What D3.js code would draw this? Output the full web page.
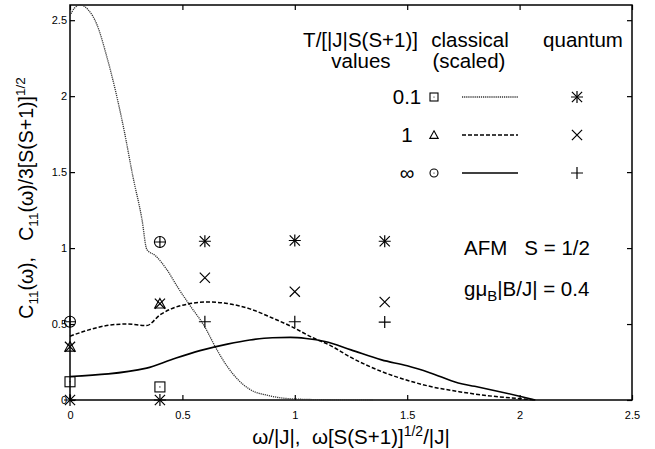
<!DOCTYPE html>
<html>
<head>
<meta charset="utf-8">
<script src="https://cdn.jsdelivr.net/npm/d3@7"></script>
<style>
  html, body { margin: 0; padding: 0; background: #fff; }
  svg { display: block; }
  text { font-family: "Liberation Sans", Arial, Helvetica, sans-serif; fill: #000; white-space: pre; }
</style>
</head>
<body>
<svg id="chart" width="655" height="449"></svg>
<script>
// Classical spectral curves C11(ω)/3[S(S+1)]^1/2 versus scaled frequency
const classicalT01 = [
  [0, 2.53], [0.02, 2.58], [0.045, 2.60], [0.08, 2.57], [0.12, 2.47], [0.16, 2.28],
  [0.2, 2.05], [0.24, 1.78], [0.28, 1.47], [0.32, 1.19], [0.342, 0.99], [0.38, 0.95],
  [0.43, 0.86], [0.48, 0.74], [0.53, 0.63], [0.6, 0.48], [0.65, 0.34], [0.7, 0.22],
  [0.75, 0.13], [0.8, 0.07], [0.88, 0.03], [0.95, 0.012], [1.05, 0.004], [1.2, 0.001], [1.35, 0]
];
const classicalT1 = [
  [0, 0.42], [0.08, 0.46], [0.163, 0.49], [0.25, 0.5], [0.341, 0.49], [0.4, 0.56],
  [0.45, 0.6], [0.52, 0.63], [0.61, 0.645], [0.7, 0.635], [0.8, 0.6], [0.9, 0.54],
  [0.99, 0.48], [1.08, 0.41], [1.157, 0.36], [1.25, 0.28], [1.39, 0.185], [1.5, 0.13],
  [1.6, 0.09], [1.73, 0.055], [1.85, 0.03], [1.99, 0.01], [2.07, 0]
];
const classicalTinf = [
  [0, 0.155], [0.341, 0.21], [0.45, 0.265], [0.578, 0.325], [0.7, 0.368], [0.8, 0.395],
  [0.9, 0.41], [0.98, 0.412], [1.05, 0.405], [1.134, 0.385], [1.25, 0.33], [1.386, 0.264],
  [1.5, 0.225], [1.6, 0.18], [1.727, 0.112], [1.8, 0.09], [1.876, 0.066], [2.0, 0.025], [2.07, 0]
];

// Exact classical values (open symbols)
const classicalX = [0, 0.4];
const squareT01 = [0.12, 0.086];
const triangleT1 = [0.35, 0.634];
const circleTinf = [0.515, 1.04];

// Quantum values (stroke symbols)
const quantumX = [0, 0.4, 0.6, 1.0, 1.4];
const starT01 = [0, 0, 1.045, 1.05, 1.045];
const crossT1 = [0.35, 0.634, 0.805, 0.713, 0.645];
const plusTinf = [0.515, 1.04, 0.515, 0.515, 0.513];

const xTicks = [0, 0.5, 1, 1.5, 2, 2.5];
const yTicks = [0, 0.5, 1, 1.5, 2, 2.5];
const tempLabels = ["0.1", "1", "\u221E"];

const svg = d3.select("#chart");
const plotL = 70, plotR = 632, plotT = 5, plotB = 400;
const x = d3.scaleLinear().domain([0, 2.5]).range([plotL, plotR]);
const y = d3.scaleLinear().domain([0, 2.6]).range([plotB, plotT]);

// Frame with inward ticks on all four sides
const tickLen = 5;
const tickFont = g => g.selectAll("text").attr("font-size", 11)
  .attr("font-family", "Liberation Sans, Arial, sans-serif");
svg.append("g").attr("transform", `translate(0,${plotB})`)
  .call(d3.axisBottom(x).tickValues(xTicks).tickSize(-tickLen).tickPadding(11)
        .tickFormat(d3.format("~g")))
  .call(g => { g.select(".domain").remove(); tickFont(g); });
svg.append("g").attr("transform", `translate(0,${plotT})`)
  .call(d3.axisTop(x).tickValues(xTicks).tickSize(-tickLen).tickFormat(""))
  .call(g => g.select(".domain").remove());
svg.append("g").attr("transform", `translate(${plotL},0)`)
  .call(d3.axisLeft(y).tickValues(yTicks).tickSize(-tickLen).tickPadding(3)
        .tickFormat(d3.format("~g")))
  .call(g => { g.select(".domain").remove(); tickFont(g); });
svg.append("g").attr("transform", `translate(${plotR},0)`)
  .call(d3.axisRight(y).tickValues(yTicks).tickSize(-tickLen).tickFormat(""))
  .call(g => g.select(".domain").remove());
svg.selectAll(".tick line").attr("stroke", "#000").attr("stroke-width", 1.2);

svg.append("rect")
  .attr("x", plotL).attr("y", plotT).attr("width", plotR - plotL).attr("height", plotB - plotT)
  .attr("fill", "none").attr("stroke", "#000").attr("stroke-width", 1.5);

// Curves
const line = d3.line().x(d => x(d[0])).y(d => y(d[1])).curve(d3.curveMonotoneX);
const styles = [
  { data: classicalT01, dash: "1.2,0.9", width: 1.3, color: "#333" },
  { data: classicalT1, dash: "4,2", width: 1.5, color: "#000" },
  { data: classicalTinf, dash: null, width: 1.6, color: "#000" }
];
styles.forEach(s => {
  svg.append("path").datum(s.data).attr("d", line)
    .attr("fill", "none").attr("stroke", s.color).attr("stroke-width", s.width)
    .attr("stroke-dasharray", s.dash);
});

// Symbol drawing helpers
function drawSquare(g, cx, cy, r) {
  g.append("rect").attr("x", cx - r).attr("y", cy - r).attr("width", 2 * r).attr("height", 2 * r)
    .attr("fill", "none").attr("stroke", "#000").attr("stroke-width", 1.1);
  g.append("circle").attr("cx", cx).attr("cy", cy).attr("r", 0.6).attr("fill", "#000");
}
function drawTriangle(g, cx, cy, r) {
  const h = r * 1.9;
  g.append("path")
    .attr("d", `M${cx},${cy - h * 0.55}L${cx + r * 1.05},${cy + h * 0.45}L${cx - r * 1.05},${cy + h * 0.45}Z`)
    .attr("fill", "none").attr("stroke", "#000").attr("stroke-width", 1.1);
}
function drawCircle(g, cx, cy, r) {
  g.append("circle").attr("cx", cx).attr("cy", cy).attr("r", r)
    .attr("fill", "none").attr("stroke", "#000").attr("stroke-width", 1.1);
  g.append("circle").attr("cx", cx).attr("cy", cy).attr("r", 0.6).attr("fill", "#000");
}
function drawPlus(g, cx, cy, r) {
  g.append("path").attr("d", `M${cx - r},${cy}H${cx + r}M${cx},${cy - r}V${cy + r}`)
    .attr("stroke", "#000").attr("stroke-width", 1.2);
}
function drawCross(g, cx, cy, r) {
  const k = r * 0.85;
  g.append("path").attr("d", `M${cx - k},${cy - k}L${cx + k},${cy + k}M${cx - k},${cy + k}L${cx + k},${cy - k}`)
    .attr("stroke", "#000").attr("stroke-width", 1.2);
}
function drawStar(g, cx, cy, r) {
  drawPlus(g, cx, cy, r);
  drawCross(g, cx, cy, r);
}

const marks = svg.append("g");
classicalX.forEach((v, i) => {
  drawSquare(marks, x(v), y(squareT01[i]), 5);
  drawTriangle(marks, x(v), y(triangleT1[i]), 5);
  drawCircle(marks, x(v), y(circleTinf[i]), 5.5);
});
quantumX.forEach((v, i) => {
  drawStar(marks, x(v), y(starT01[i]), 6);
  drawCross(marks, x(v), y(crossT1[i]), 6);
  drawPlus(marks, x(v), y(plusTinf[i]), 6);
});

// Legend
const leg = svg.append("g").attr("font-size", 20.5);
leg.append("text").attr("x", 418).attr("y", 47).attr("text-anchor", "end").text("T/[|J|S(S+1)]");
leg.append("text").attr("x", 361).attr("y", 68).attr("text-anchor", "middle").text("values");
leg.append("text").attr("x", 470).attr("y", 47).attr("text-anchor", "middle").text("classical");
leg.append("text").attr("x", 469).attr("y", 68).attr("text-anchor", "middle").text("(scaled)");
leg.append("text").attr("x", 583).attr("y", 47).attr("text-anchor", "middle").text("quantum");

const rowY = [97, 135, 173];
const legSym = [drawSquare, drawTriangle, drawCircle];
const legQ = [drawStar, drawCross, drawPlus];
rowY.forEach((ry, i) => {
  leg.append("text").attr("x", 407).attr("y", ry + 7).attr("text-anchor", "middle").text(tempLabels[i]);
  legSym[i](leg, 434, ry, 4);
  leg.append("line").attr("x1", 462).attr("x2", 518).attr("y1", ry).attr("y2", ry)
    .attr("stroke", styles[i].color).attr("stroke-width", styles[i].width)
    .attr("stroke-dasharray", styles[i].dash);
  legQ[i](leg, 577, ry, 6);
});

// Parameter annotations
const note = svg.append("g").attr("font-size", 20.5);
note.append("text").attr("x", 464).attr("y", 255).text("AFM   S = 1/2");
const g2 = note.append("text").attr("x", 464).attr("y", 296);
g2.append("tspan").text("g\u03BC");
g2.append("tspan").attr("font-size", 15).attr("dy", 5).text("B");
g2.append("tspan").attr("dy", -5).text("|B/J| = 0.4");

// Axis titles
const xt = svg.append("text").attr("x", 351).attr("y", 444).attr("text-anchor", "middle").attr("font-size", 20.5);
xt.append("tspan").text("\u03C9/|J|,  \u03C9[S(S+1)]");
xt.append("tspan").attr("font-size", 14).attr("dy", -8).text("1/2");
xt.append("tspan").attr("dy", 8).text("/|J|");

const yt = svg.append("text").attr("transform", "translate(33,198) rotate(-90)")
  .attr("text-anchor", "middle").attr("font-size", 19.5);
yt.append("tspan").text("C");
yt.append("tspan").attr("font-size", 13.5).attr("dy", 5).text("11");
yt.append("tspan").attr("dy", -5).text("(\u03C9),   C");
yt.append("tspan").attr("font-size", 13.5).attr("dy", 5).text("11");
yt.append("tspan").attr("dy", -5).text("(\u03C9)/3[S(S+1)]");
yt.append("tspan").attr("font-size", 13.5).attr("dy", -8).text("1/2");
</script>
</body>
</html>
